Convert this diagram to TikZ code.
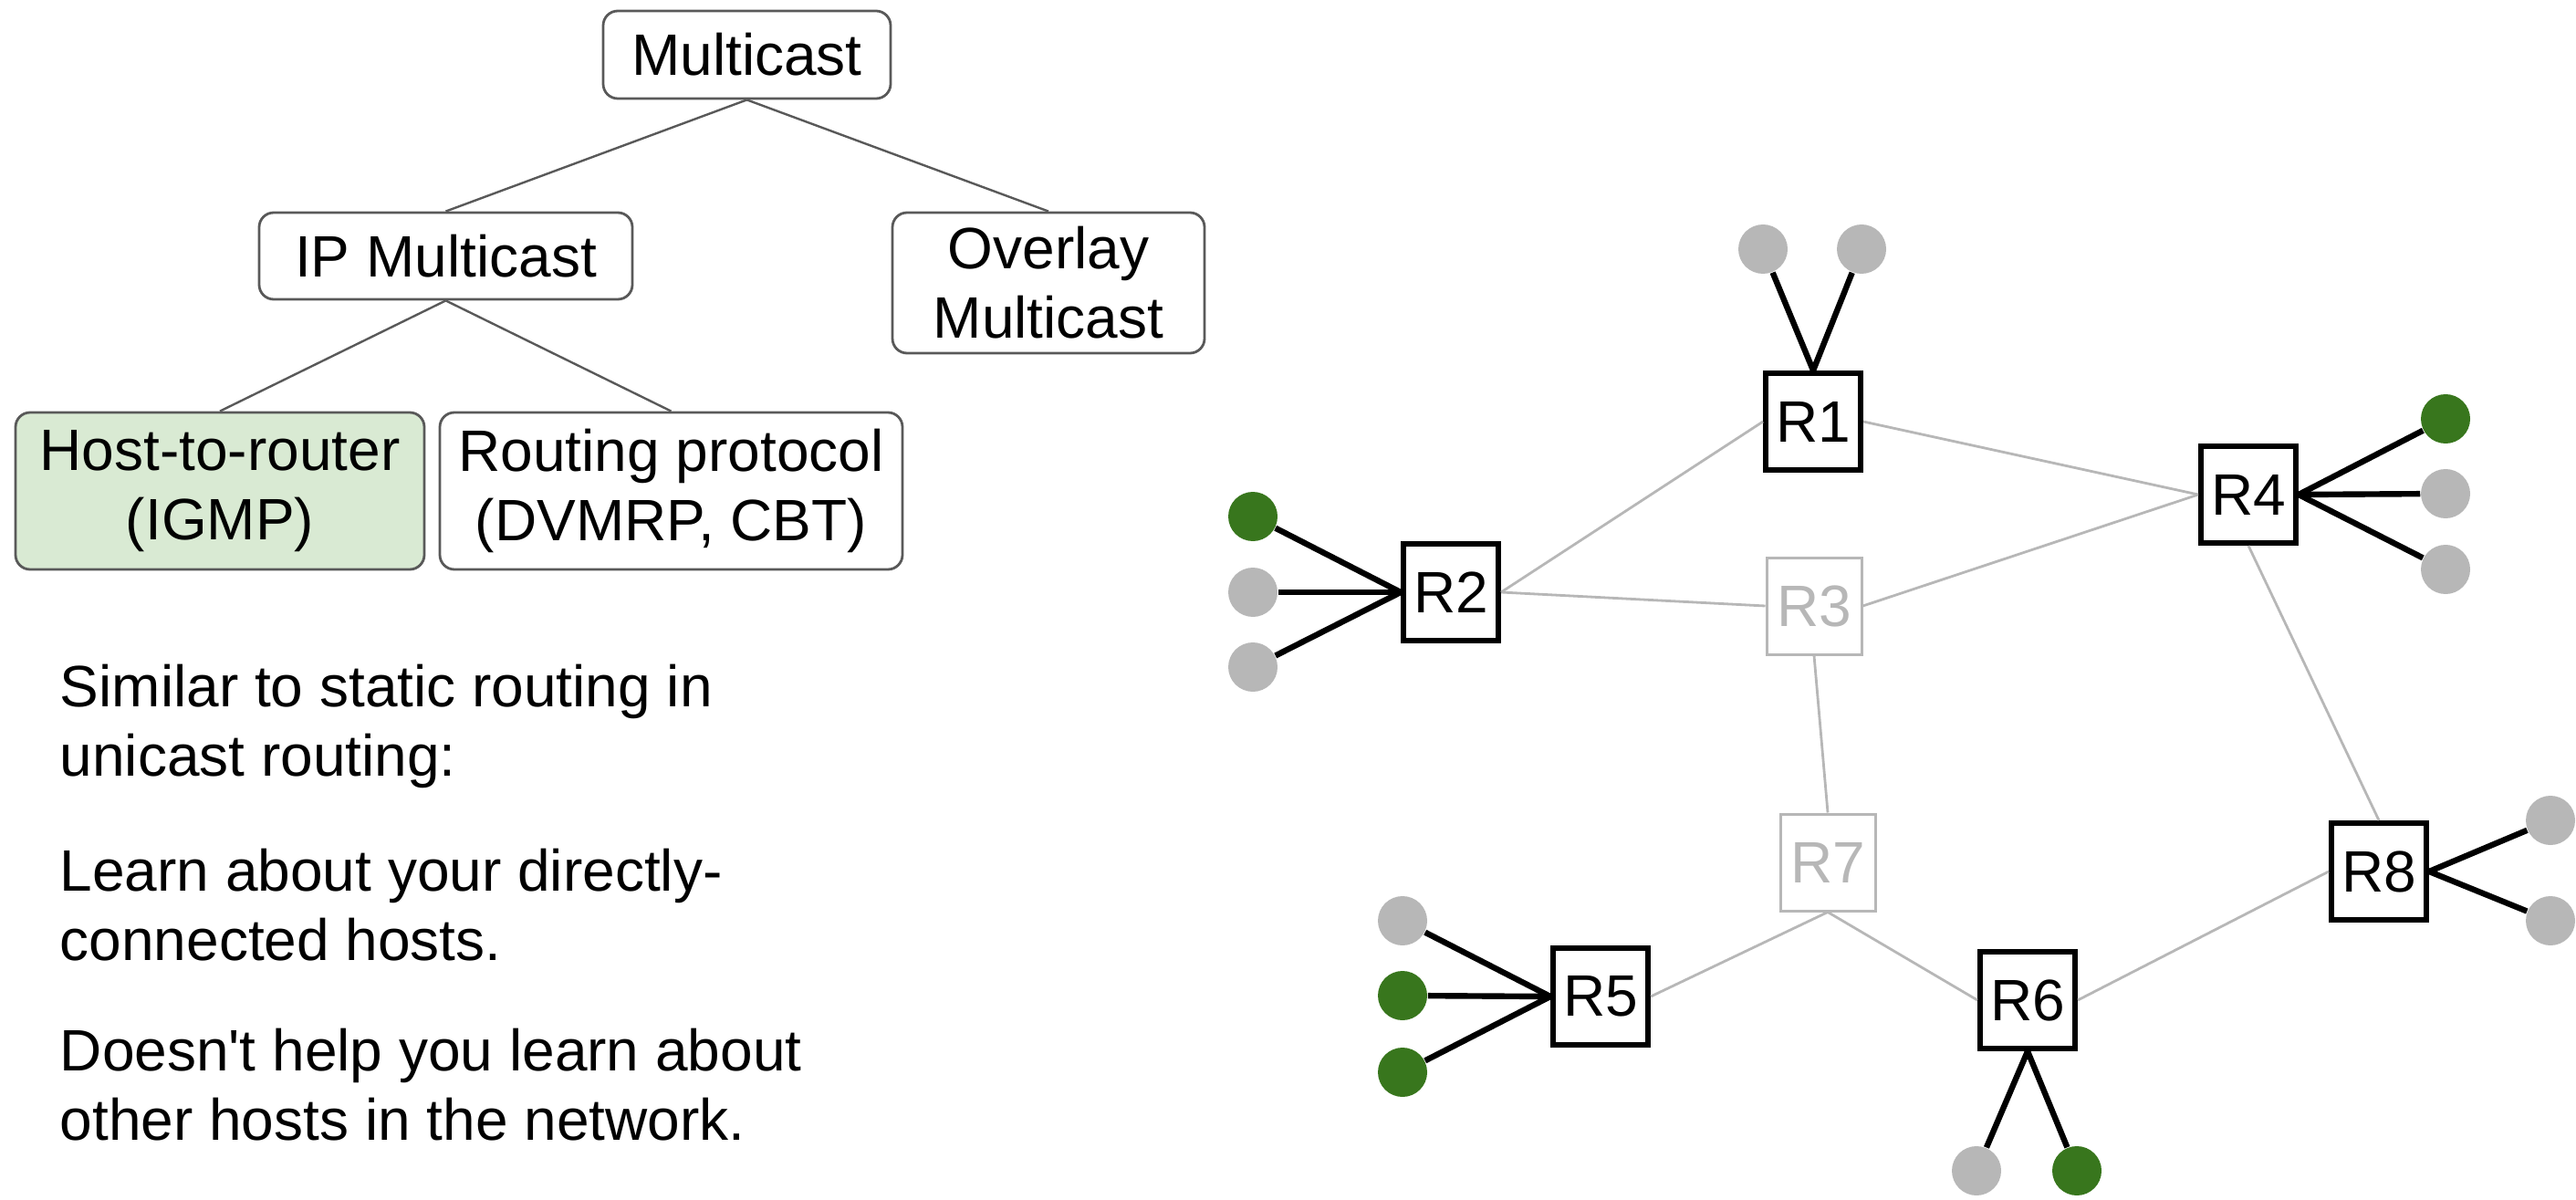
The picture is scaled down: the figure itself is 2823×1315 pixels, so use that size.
\documentclass[tikz,border=0pt]{standalone}
\usepackage{fontspec}
\setmainfont[Ligatures=TeXOff]{Liberation Sans}
\definecolor{treegray}{HTML}{595959}
\definecolor{lgray}{HTML}{B7B7B7}
\definecolor{hgreen}{HTML}{38761D}
\definecolor{lgreen}{HTML}{D9EAD3}
\begin{document}
\begin{tikzpicture}[x=0.25pt,y=-0.25pt,
  font=\fontsize{16}{19}\selectfont,
  tbox/.style={draw=treegray, line width=0.7pt, rounded corners=4pt, align=center, inner sep=0pt},
  router/.style={draw=black, line width=1.5pt, minimum width=26pt, minimum height=26.5pt, inner sep=0pt},
  grouter/.style={router, draw=lgray, text=lgray, line width=0.75pt},
  ghost/.style={circle, fill=lgray, minimum size=13.5pt, inner sep=0pt},
  greenhost/.style={ghost, fill=hgreen},
  hlink/.style={draw=black, line width=1.6pt},
  glink/.style={draw=lgray, line width=0.7pt},
  tlink/.style={draw=treegray, line width=0.6pt},
  para/.style={anchor=base west, align=left, inner sep=0pt}]
\useasboundingbox (0,0) rectangle (2823,1315);

% tree
\node[tbox, minimum width=78.75pt, minimum height=24pt] (mc) at (818.5,60) {Multicast};
\node[tbox, minimum width=102.25pt, minimum height=23.75pt] (ip) at (488.5,280.5) {IP Multicast};
\node[tbox, minimum width=85.5pt, minimum height=38.5pt] (ov) at (1149,310) {Overlay\\Multicast};
\node[tbox, fill=lgreen, minimum width=112pt, minimum height=43pt] (hr) at (241,538) {Host-to-router\\(IGMP)};
\node[tbox, minimum width=126.75pt, minimum height=43pt] (rp) at (735.5,538) {Routing protocol\\(DVMRP, CBT)};
\draw[tlink] (mc.south) -- (ip.north);
\draw[tlink] (mc.south) -- (ov.north);
\draw[tlink] (ip.south) -- (hr.north);
\draw[tlink] (ip.south) -- (rp.north);

% text (base anchor = baseline of the last line)
\node[para] (p1) at (65,850) {Similar to static routing in\\unicast routing:};
\node[para] (p2) at (65,1052) {Learn about your directly-\\connected hosts.};
\node[para] (p3) at (65,1249) {Doesn't help you learn about\\other hosts in the network.};

% routers
\node[router] (R1) at (1987,462) {R1};
\node[router] (R2) at (1590,649) {R2};
\node[grouter] (R3) at (1988,664) {R3};
\node[router] (R4) at (2464,542) {R4};
\node[router] (R5) at (1754,1092) {R5};
\node[router] (R6) at (2222,1096) {R6};
\node[grouter] (R7) at (2003,945) {R7};
\node[router] (R8) at (2607,955) {R8};

% hosts
\node[ghost] (h1a) at (1932,273) {};
\node[ghost] (h1b) at (2040,273) {};
\node[greenhost] (h4a) at (2680,459) {};
\node[ghost] (h4b) at (2680,541) {};
\node[ghost] (h4c) at (2680,624) {};
\node[greenhost] (h2a) at (1373,566) {};
\node[ghost] (h2b) at (1373,649) {};
\node[ghost] (h2c) at (1373,731) {};
\node[ghost] (h5a) at (1537,1009) {};
\node[greenhost] (h5b) at (1537,1091) {};
\node[greenhost] (h5c) at (1537,1175) {};
\node[ghost] (h6a) at (2166,1283) {};
\node[greenhost] (h6b) at (2276,1283) {};
\node[ghost] (h8a) at (2795,899) {};
\node[ghost] (h8b) at (2795,1009) {};

% gray links
\draw[glink] (R2.east) -- (R1.west);
\draw[glink] (R1.east) -- (R4.west);
\draw[glink] (R2.east) -- (R3.west);
\draw[glink] (R3.east) -- (R4.west);
\draw[glink] (R3.south) -- (R7.north);
\draw[glink] (R4.south) -- (R8.north);
\draw[glink] (R7.south) -- (R5.east);
\draw[glink] (R7.south) -- (R6.west);
\draw[glink] (R6.east) -- (R8.west);

% host links
\draw[hlink] (h1a) -- (R1.north);
\draw[hlink] (h1b) -- (R1.north);
\draw[hlink] (h4a) -- (R4.east);
\draw[hlink] (h4b) -- (R4.east);
\draw[hlink] (h4c) -- (R4.east);
\draw[hlink] (h2a) -- (R2.west);
\draw[hlink] (h2b) -- (R2.west);
\draw[hlink] (h2c) -- (R2.west);
\draw[hlink] (h5a) -- (R5.west);
\draw[hlink] (h5b) -- (R5.west);
\draw[hlink] (h5c) -- (R5.west);
\draw[hlink] (h6a) -- (R6.south);
\draw[hlink] (h6b) -- (R6.south);
\draw[hlink] (h8a) -- (R8.east);
\draw[hlink] (h8b) -- (R8.east);
\end{tikzpicture}
\end{document}
